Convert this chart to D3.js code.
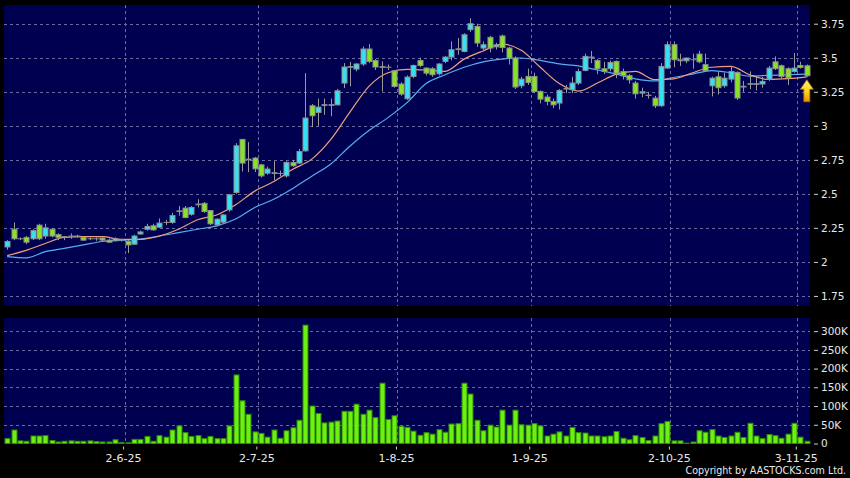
<!DOCTYPE html>
<html><head><meta charset="utf-8">
<script src="https://cdn.jsdelivr.net/npm/d3@7/dist/d3.min.js"></script>
<style>html,body{margin:0;padding:0;background:#000}svg{display:block}</style>
</head><body>
<script>
// ---- data (HK stock, daily, May 2 – Nov 4, 2025) ----
const openP = [2.11,2.24,2.17,2.18,2.17,2.27,2.19,2.24,2.20,2.185,2.19,2.19,2.18,2.17,2.17,2.175,2.16,2.155,2.16,2.15,
2.13,2.205,2.24,2.265,2.255,2.29,2.29,2.37,2.395,2.35,2.42,2.43,2.377,2.272,2.292,2.382,2.51,2.90,2.75,2.763,
2.713,2.652,2.65,2.65,2.632,2.73,2.726,2.816,3.147,3.098,3.15,3.15,3.154,3.314,3.43,3.417,3.454,3.564,3.48,3.43,
3.43,3.404,3.307,3.199,3.362,3.48,3.424,3.419,3.382,3.473,3.505,3.56,3.546,3.706,3.73,3.571,3.65,3.58,3.66,3.571,
3.498,3.294,3.363,3.363,3.252,3.211,3.179,3.167,3.27,3.265,3.314,3.407,3.50,3.48,3.419,3.419,3.473,3.399,3.368,3.314,
3.24,3.223,3.203,3.147,3.424,3.596,3.485,3.478,3.485,3.527,3.449,3.294,3.36,3.294,3.343,3.392,3.29,3.305,3.305,3.307,
3.343,3.47,3.441,3.419,3.399,3.443,3.441];
const highP = [2.16,2.29,2.18,2.19,2.24,2.28,2.28,2.25,2.21,2.19,2.21,2.20,2.19,2.18,2.18,2.18,2.17,2.18,2.17,2.16,
2.20,2.23,2.28,2.28,2.32,2.31,2.36,2.41,2.41,2.41,2.46,2.44,2.38,2.32,2.35,2.50,2.873,2.90,2.88,2.77,
2.72,2.70,2.74,2.67,2.74,2.75,2.83,3.387,3.16,3.20,3.20,3.20,3.27,3.461,3.47,3.46,3.583,3.60,3.49,3.473,
3.45,3.41,3.32,3.37,3.45,3.50,3.43,3.43,3.46,3.51,3.62,3.645,3.68,3.79,3.75,3.62,3.66,3.61,3.67,3.58,
3.51,3.36,3.42,3.39,3.26,3.23,3.20,3.27,3.30,3.36,3.42,3.53,3.55,3.49,3.47,3.48,3.48,3.42,3.38,3.33,
3.28,3.25,3.22,3.46,3.62,3.62,3.53,3.50,3.53,3.55,3.53,3.36,3.40,3.39,3.44,3.40,3.33,3.40,3.36,3.36,
3.44,3.51,3.45,3.43,3.534,3.47,3.45];
const lowP = [2.09,2.16,2.16,2.13,2.16,2.16,2.17,2.18,2.16,2.16,2.17,2.18,2.155,2.16,2.155,2.15,2.14,2.15,2.15,2.065,
2.125,2.20,2.23,2.23,2.25,2.27,2.28,2.34,2.32,2.34,2.40,2.36,2.27,2.26,2.28,2.37,2.50,2.664,2.66,2.66,
2.62,2.64,2.60,2.63,2.62,2.70,2.72,2.81,2.99,3.00,3.08,3.07,3.15,3.277,3.29,3.40,3.44,3.46,3.41,3.252,
3.41,3.28,3.22,3.19,3.35,3.43,3.37,3.36,3.37,3.46,3.48,3.522,3.54,3.69,3.58,3.55,3.54,3.56,3.54,3.45,
3.27,3.275,3.30,3.24,3.165,3.15,3.13,3.12,3.24,3.24,3.30,3.40,3.46,3.38,3.38,3.40,3.35,3.34,3.31,3.20,
3.21,3.20,3.13,3.14,3.42,3.43,3.44,3.46,3.42,3.46,3.40,3.216,3.23,3.28,3.32,3.19,3.25,3.27,3.26,3.28,
3.33,3.41,3.35,3.30,3.39,3.42,3.36];
const closeP = [2.15,2.17,2.17,2.145,2.23,2.17,2.25,2.19,2.18,2.185,2.19,2.19,2.16,2.17,2.17,2.16,2.145,2.17,2.16,2.125,
2.19,2.22,2.26,2.235,2.285,2.29,2.34,2.375,2.326,2.40,2.425,2.37,2.28,2.314,2.345,2.493,2.853,2.726,2.755,2.684,
2.632,2.682,2.655,2.65,2.73,2.706,2.811,3.057,3.074,3.137,3.155,3.155,3.257,3.432,3.435,3.454,3.564,3.473,3.432,3.435,
3.43,3.289,3.233,3.358,3.443,3.443,3.387,3.375,3.454,3.505,3.559,3.565,3.669,3.75,3.608,3.596,3.571,3.595,3.575,3.498,
3.285,3.343,3.318,3.252,3.196,3.179,3.154,3.26,3.275,3.314,3.399,3.51,3.505,3.419,3.40,3.465,3.387,3.368,3.338,3.235,
3.25,3.225,3.147,3.436,3.596,3.485,3.478,3.498,3.485,3.47,3.404,3.35,3.28,3.35,3.399,3.204,3.285,3.309,3.309,3.326,
3.424,3.42,3.363,3.355,3.424,3.429,3.368];
const volumeK = [13,36,7,6,20,20,21,8,4,6,7,6,6,7,5,4,4,10,3,2,
11,11,19,6,21,17,36,47,29,19,21,13,19,13,13,47,183,114,78,31,
27,17,36,14,34,42,62,316,100,80,55,57,60,86,86,105,78,89,69,161,
64,74,46,43,33,22,29,25,37,30,52,53,161,132,62,34,49,44,89,49,
89,50,49,53,47,20,25,31,20,43,29,28,20,20,18,20,32,14,10,21,
16,8,20,53,59,7,7,1,4,34,30,37,20,16,20,30,16,54,20,13,
24,21,14,25,54,17,6];
// moving averages (orange = short MA, blue = long MA), sampled every 3rd session
const maIndex = [0,3,6,9,12,15,18,21,24,27,30,33,36,39,42,45,48,51,54,57,60,63,66,69,72,75,78,81,84,87,90,93,96,99,102,105,108,111,114,117,120,123,126];
const maShort = [2.046,2.085,2.135,2.18,2.185,2.185,2.165,2.165,2.19,2.24,2.31,2.345,2.42,2.52,2.59,2.68,2.755,2.90,3.10,3.29,
3.39,3.415,3.41,3.40,3.49,3.55,3.60,3.555,3.43,3.31,3.255,3.314,3.38,3.40,3.34,3.345,3.39,3.43,3.436,3.375,3.34,3.346,3.36];
const maLong = [2.039,2.03,2.075,2.10,2.125,2.15,2.16,2.168,2.19,2.215,2.24,2.265,2.315,2.40,2.46,2.54,2.63,2.72,2.85,2.965,
3.06,3.17,3.31,3.375,3.43,3.47,3.49,3.498,3.48,3.455,3.44,3.41,3.38,3.345,3.33,3.355,3.38,3.405,3.39,3.365,3.37,3.375,3.38];
const monthTickIndex = [19,40,62,83,105,125];
const monthTickLabels = ["2-6-25","2-7-25","1-8-25","1-9-25","2-10-25","3-11-25"];
const priceTicks = [1.75,2,2.25,2.5,2.75,3,3.25,3.5,3.75];
const priceTickLabels = ["1.75","2","2.25","2.5","2.75","3","3.25","3.5","3.75"];
const volTicksK = [0,50,100,150,200,250,300];
const volTickLabels = ["0","50K","100K","150K","200K","250K","300K"];

// ---- layout ----
const W = 850, H = 478;
const PL = 4, PR = 810, PT = 5, PB = 306;   // price panel
const VT = 318, VB = 443.5;                  // volume panel
const BG = "#000050", GRID = "#6a6aa0";
const UP = "#36e0f2", DOWN = "#86e424", EDGE = "#8f8f8f";

const svg = d3.select("body").append("svg").attr("width", W).attr("height", H)
  .style("background", "#000").style("font-family", "'DejaVu Sans', sans-serif");

const n = closeP.length;
const x = d3.scaleBand().domain(d3.range(n)).range([PL, PR]).padding(0);
const cx = i => x(i) + x.bandwidth() / 2;
const yP = d3.scaleLinear().domain([1.676, 3.8875]).range([PB, PT]);
const yV = d3.scaleLinear().domain([0, 335]).range([VB, VT]);

// panels
svg.append("rect").attr("x", PL).attr("y", PT).attr("width", PR - PL).attr("height", PB - PT).attr("fill", BG);
svg.append("rect").attr("x", PL).attr("y", VT).attr("width", PR - PL).attr("height", VB - VT).attr("fill", BG);

// grids
const grid = svg.append("g").attr("stroke", GRID).attr("stroke-width", 1).attr("stroke-dasharray", "3,3").attr("fill", "none");
priceTicks.forEach(v => {
  const yy = Math.round(yP(v)) + 0.5;
  grid.append("line").attr("x1", PL).attr("x2", PR).attr("y1", yy).attr("y2", yy);
});
volTicksK.filter(v => v > 0).forEach(v => {
  const yy = Math.round(yV(v)) + 0.5;
  grid.append("line").attr("x1", PL).attr("x2", PR).attr("y1", yy).attr("y2", yy);
});
monthTickIndex.forEach(i => {
  const xx = Math.round(x(i)) + 0.5;
  grid.append("line").attr("x1", xx).attr("x2", xx).attr("y1", PT).attr("y2", PB);
  grid.append("line").attr("x1", xx).attr("x2", xx).attr("y1", VT).attr("y2", VB);
});

// moving averages
const maLine = vals => d3.line().x((d, k) => cx(maIndex[k])).y(d => yP(d)).curve(d3.curveMonotoneX)(vals);
svg.append("path").attr("d", maLine(maLong)).attr("fill", "none").attr("stroke", "#56aef0").attr("stroke-width", 1.2);
svg.append("path").attr("d", maLine(maShort)).attr("fill", "none").attr("stroke", "#f0a07a").attr("stroke-width", 1.2);

// candles
const idx = d3.range(n);
const cg = svg.append("g");
cg.selectAll("line.wick").data(idx).join("line")
  .attr("x1", i => Math.round(cx(i)) + 0.5).attr("x2", i => Math.round(cx(i)) + 0.5)
  .attr("y1", i => yP(highP[i])).attr("y2", i => yP(lowP[i]))
  .attr("stroke", "#9a9a9a").attr("stroke-width", 1);
cg.selectAll("rect.body").data(idx).join("rect")
  .attr("x", i => Math.round(cx(i)) + 0.5 - 2.5)
  .attr("width", 5)
  .attr("y", i => yP(Math.max(openP[i], closeP[i])))
  .attr("height", i => Math.max(0.01, Math.abs(yP(openP[i]) - yP(closeP[i]))))
  .attr("fill", i => closeP[i] > openP[i] ? UP : closeP[i] < openP[i] ? DOWN : EDGE)
  .attr("stroke", EDGE).attr("stroke-width", 1);

// arrow marking the latest session
const last = n - 1;
const ax = cx(last), ay = yP(lowP[last]) + 3;
const defs = svg.append("defs");
const lg = defs.append("linearGradient").attr("id", "arrowGrad").attr("x1", 0).attr("y1", 0).attr("x2", 0).attr("y2", 1);
lg.append("stop").attr("offset", "0%").attr("stop-color", "#fff27a");
lg.append("stop").attr("offset", "55%").attr("stop-color", "#ffd21e");
lg.append("stop").attr("offset", "100%").attr("stop-color", "#e89200");
svg.append("path")
  .attr("d", `M${ax},${ay} L${ax + 6.5},${ay + 9.5} L${ax + 3},${ay + 9.5} L${ax + 3},${ay + 22} L${ax - 3},${ay + 22} L${ax - 3},${ay + 9.5} L${ax - 6.5},${ay + 9.5} Z`)
  .attr("fill", "url(#arrowGrad)").attr("stroke", "#b86a00").attr("stroke-width", 0.8);

// volume bars
svg.append("g").selectAll("rect").data(idx).join("rect")
  .attr("x", i => Math.round(cx(i)) + 0.5 - 2.5)
  .attr("width", 5)
  .attr("y", i => yV(volumeK[i]))
  .attr("height", i => VB - yV(volumeK[i]))
  .attr("fill", "#6cf014").attr("stroke", "#2f8a00").attr("stroke-width", 1);

// right axes
const axP = d3.axisRight(yP).tickValues(priceTicks).tickSize(4).tickPadding(3)
  .tickFormat((d, k) => priceTickLabels[k]);
const gP = svg.append("g").attr("transform", `translate(${PR + 4},0)`).call(axP);
const axV = d3.axisRight(yV).tickValues(volTicksK).tickSize(4).tickPadding(3)
  .tickFormat((d, k) => volTickLabels[k]);
const gV = svg.append("g").attr("transform", `translate(${PR + 4},0)`).call(axV);
[gP, gV].forEach(g => {
  g.select(".domain").remove();
  g.selectAll("line").attr("stroke", "#cfcfcf");
  g.selectAll("text").attr("fill", "#e8e8e8").style("font-size", "10.5px").style("font-family", "'DejaVu Sans', sans-serif");
});

// bottom axis (month starts)
const axX = d3.axisBottom(x).tickValues(monthTickIndex).tickSize(3).tickPadding(5)
  .tickFormat((d, k) => monthTickLabels[k]);
const gX = svg.append("g").attr("transform", `translate(${-x.bandwidth() / 2 - 1},${VB + 3})`).call(axX);
gX.select(".domain").remove();
gX.selectAll("line").attr("stroke", "#cfcfcf");
gX.selectAll("text").attr("fill", "#e8e8e8").style("font-size", "11px").style("font-family", "'DejaVu Sans', sans-serif");

svg.append("text").attr("x", 846).attr("y", 474).attr("text-anchor", "end")
  .attr("fill", "#e8e8e8").style("font-size", "10.6px").style("font-family", "'DejaVu Sans Condensed', 'DejaVu Sans', sans-serif")
  .text("Copyright by AASTOCKS.com Ltd.");
</script>
</body></html>
